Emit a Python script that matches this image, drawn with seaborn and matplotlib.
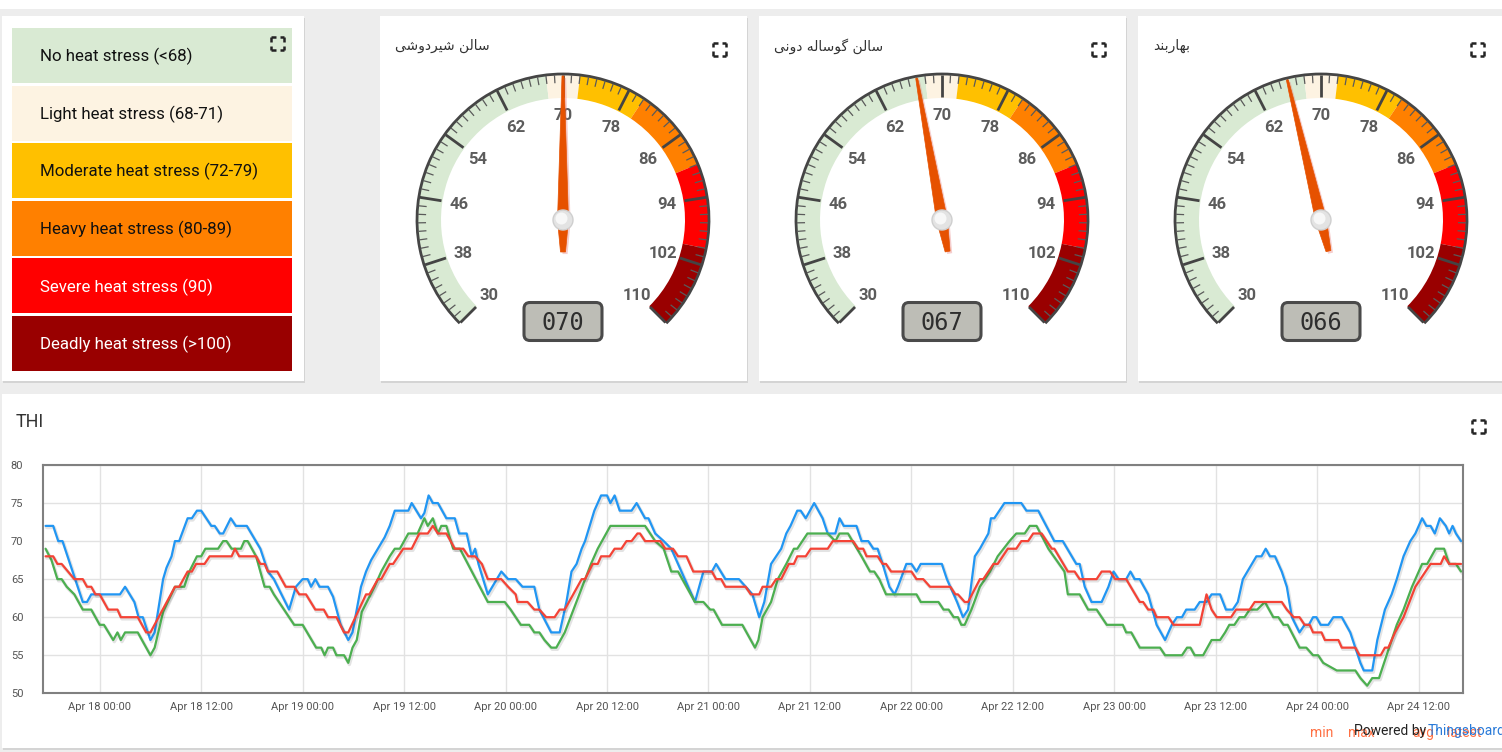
import numpy as np
import pandas as pd
import matplotlib
matplotlib.use("Agg")
import matplotlib.pyplot as plt
import matplotlib.patheffects as pe
from matplotlib.patches import Rectangle, Wedge, Arc, Circle, Polygon, FancyBboxPatch
import seaborn as sns

# ---------------- data ----------------
stress_labels = ["No heat stress (<68)", "Light heat stress (68-71)", "Moderate heat stress (72-79)",
                 "Heavy heat stress (80-89)", "Severe heat stress (90)", "Deadly heat stress (>100)"]
stress_colors = ["#d9ead3", "#fdf3e2", "#ffc000", "#ff8000", "#ff0000", "#990000"]
stress_text_colors = ["#111111", "#111111", "#111111", "#111111", "#ffffff", "#ffffff"]
band_edges = [30, 68, 72, 80, 90, 100, 110]

# Persian gauge titles (presentation forms, visual order)
gauge_names = [
    "\uFEF0\uFEB7\uFEED\uFEA9\uFEAE\uFEF4\uFEB7 \uFEE6\uFEDF\uFE8E\uFEB3",
    "\uFEF0\uFEE7\uFEED\uFEA9 \uFEEA\uFEDF\uFE8E\uFEB3\uFEEE\uFB94 \uFEE6\uFEDF\uFE8E\uFEB3",
    "\uFEAA\uFEE8\uFE91\uFEAD\uFE8E\uFEEC\uFE91",
]
gauge_values = [70, 67, 66]
gauge_ticks = [30, 38, 46, 54, 62, 70, 78, 86, 94, 102, 110]

series_names = ["max", "min", "avg"]
series_colors = {"max": "#2196f3", "min": "#4caf50", "avg": "#f44336"}
legend_items = ["min", "max", "avg", "latest"]

# hours relative to Apr 18 00:00
max_hours = [-6.4, -5.5, -4.9, -4.4, -2.0, -1.5, -1.0, 2.4, 3.0, 4.1, 4.6, 5.1, 6.0, 6.5, 7.5, 7.9, 8.5, 8.9, 9.4,
             10.4, 10.9, 11.5, 12.0, 13.2, 13.6, 14.2, 14.6, 15.5, 16.1, 17.4, 19.0, 19.9, 20.6, 22.4, 23.2, 24.0,
             24.6, 25.0, 25.5, 26.0, 27.0, 27.6, 28.5, 29.4, 29.9, 30.9, 31.5, 32.1, 32.9, 33.7, 34.3, 34.9, 36.5,
             36.9, 38.0, 38.4, 38.9, 39.4, 40.0, 41.0, 42.0, 42.5, 43.4, 44.0, 44.4, 44.8, 45.9, 47.5, 48.3, 49.2,
             50.0, 51.4, 52.0, 53.4, 54.4, 55.2, 55.8, 56.4, 57.0, 57.4, 58.5, 59.3, 60.0, 60.4, 60.9, 61.5, 62.9,
             63.5, 64.5, 64.9, 65.7, 66.7, 67.6, 68.4, 70.4, 71.4, 72.4, 72.9, 74.0, 75.6, 76.4, 77.2, 78.0, 78.6,
             79.4, 80.0, 80.6, 81.2, 81.7, 82.5, 82.9, 83.5, 84.5, 85.5, 86.1, 87.0, 87.5, 88.0, 89.5, 90.1, 90.9,
             91.5, 92.0, 92.6, 93.4, 94.0, 94.4, 95.4, 96.0, 96.6, 97.1, 99.6, 100.2, 101.4, 102.1, 102.7, 103.5,
             104.1, 105.1, 105.4, 105.8, 107.0, 109.0, 109.6, 111.0, 112.9, 113.9, 115.5, 115.9, 116.5, 117.3,
             118.5, 119.3, 119.9, 120.5, 121.4, 121.9, 122.4, 123.0, 124.0, 125.0, 126.0, 126.8, 127.4, 128.0,
             128.5, 129.5, 130.1, 130.9, 131.5, 132.5, 133.2, 134.0, 134.6, 135.2, 136.0, 136.8, 137.4, 137.9,
             138.4, 139.0, 139.8, 140.4, 141.0, 141.9, 142.5, 143.0, 143.5, 143.9, 144.4, 145.3, 145.9, 146.9,
             147.9, 148.5, 149.1, 149.5, 150.5, 151.1, 152.0, 152.8, 153.4, 154.2, 155.0, 155.6, 156.4, 156.9,
             157.4, 157.9, 158.5, 159.2, 159.6, 160.0, 160.4, 161.0]
max_thi = [72, 72, 70, 70, 62, 62, 63, 63, 64, 62, 60, 60, 57, 58, 65, 66.5, 68, 70, 70,
           73, 73, 74, 74, 72, 72, 71, 71, 73, 72, 72, 69, 66, 65, 61, 64, 65,
           65, 64, 65, 64, 64, 62.7, 59, 57, 58, 64, 66, 67.5, 69, 70.5, 72, 74, 74,
           75, 73, 73.7, 76, 75, 75, 73, 73, 71, 71, 68, 69, 67, 63, 66, 65, 65,
           64, 64, 61, 58, 58, 62, 66, 67, 69, 70, 74, 76, 76, 75, 76, 74, 74,
           75, 73, 73, 71, 70, 69, 67, 62, 66, 66, 67, 65, 65, 64, 63, 60, 62,
           67, 68, 69, 71, 72, 74, 74, 73, 75, 73, 71, 71, 73, 72, 72, 70, 70,
           69, 69, 67, 64, 63, 64, 67, 67, 66, 67, 67, 65, 62, 60, 61, 68,
           69, 71, 73, 73, 75, 75, 74, 74, 70, 70, 67, 67, 64, 62,
           62, 64, 66, 65, 65, 66, 65, 65, 63, 59, 57, 59, 60, 60,
           61, 61, 62, 62, 63, 63, 61, 61, 62, 65, 66.5, 68, 68, 69,
           68, 68, 66, 64, 60, 58, 59, 59, 60, 60, 59, 59, 60, 60,
           58, 56, 54, 53, 53, 57, 61, 63, 65, 68, 70, 71, 73, 72,
           72, 71, 73, 72, 71, 72, 71, 70]

min_hours = [-6.4, -5.7, -5.0, -4.5, -3.9, -3.0, -2.0, -1.0, 0.0, 0.5, 1.6, 2.1, 2.5, 3.0, 4.5, 6.0, 6.5, 7.5, 8.9,
             10.0, 10.6, 11.5, 12.0, 12.5, 14.0, 14.6, 15.0, 15.6, 16.7, 17.1, 17.5, 18.5, 19.5, 20.1, 20.6, 21.2,
             23.0, 24.0, 25.6, 26.2, 26.6, 27.0, 27.6, 28.0, 28.9, 29.4, 29.9, 30.4, 31.0, 32.5, 33.3, 34.3, 34.9,
             35.5, 36.5, 37.6, 38.4, 38.8, 39.4, 40.0, 40.4, 41.0, 41.8, 42.6, 45.9, 47.9, 48.6, 49.8, 50.8, 51.4,
             52.0, 52.6, 53.4, 54.0, 55.0, 58.1, 58.9, 60.4, 64.5, 65.7, 66.7, 67.3, 67.6, 68.4, 70.4, 71.4, 72.2,
             72.6, 73.6, 76.0, 77.5, 77.9, 78.4, 79.4, 80.2, 81.2, 82.1, 82.5, 83.7, 86.1, 87.0, 87.5, 88.5, 90.1,
             91.1, 91.6, 92.2, 93.0, 96.6, 97.1, 99.2, 99.8, 100.4, 101.0, 101.5, 101.9, 102.3, 103.1, 104.1,
             105.3, 106.2, 107.6, 108.4, 109.4, 110.0, 110.8, 112.2, 114.1, 114.5, 115.9, 116.9, 117.9, 119.1,
             121.0, 121.4, 122.0, 123.0, 125.4, 126.0, 128.0, 128.6, 129.0, 129.5, 130.5, 131.5, 132.5, 133.1,
             133.6, 134.2, 134.8, 135.4, 136.0, 136.9, 137.8, 138.8, 139.4, 140.0, 140.5, 141.9, 142.7, 143.5,
             144.1, 144.7, 146.3, 148.5, 149.1, 149.9, 150.5, 151.3, 152.2, 153.4, 154.2, 155.2, 156.4, 157.0,
             158.0, 159.0, 159.6, 160.4, 161.0]
min_thi = [69, 67.5, 65, 65, 64, 63, 61, 61, 59, 59, 57, 58, 57, 58, 58, 55, 56, 60.7, 64,
           64, 66, 68, 68, 69, 69, 70, 70, 69, 69, 70, 70, 68, 64, 64, 63, 62,
           59, 59, 56, 56, 55, 56, 56, 55, 55, 54, 56, 57, 60.7, 64, 66, 68, 69,
           69, 71, 71, 73, 72, 73, 71, 72, 72, 69, 69, 62, 62, 61, 59, 59, 58,
           58, 57, 56, 56, 58, 67, 69, 72, 72, 70, 69, 67, 66, 66, 62, 62, 61,
           61, 59, 59, 56, 57, 60, 62, 65, 67, 69, 69, 71, 71, 70, 71, 71, 68,
           66, 66, 65, 63, 63, 62, 62, 61, 61, 60, 60, 59, 59, 61, 64,
           66, 68, 70, 71, 71, 72, 72, 69, 66, 63, 63, 61, 61, 59,
           59, 58, 58, 56, 56, 55, 55, 56, 56, 55, 55, 57, 57, 58,
           59, 59, 60, 60, 61, 61, 62, 60, 60, 59, 59, 56, 56, 55,
           55, 54, 53, 53, 52, 51, 52, 52, 55, 59, 61, 64, 67, 67,
           69, 69, 67, 67, 66]

avg_hours = [-6.4, -5.5, -5.0, -4.5, -3.0, -2.0, -1.5, -1.0, -0.5, 0.0, 1.0, 2.1, 2.5, 4.5, 5.5, 6.0, 8.9, 9.4,
             10.4, 10.9, 11.4, 12.4, 13.0, 15.6, 16.0, 16.5, 18.5, 19.0, 19.5, 19.9, 21.0, 22.0, 23.0, 23.6,
             24.4, 25.5, 26.5, 27.0, 28.0, 28.9, 29.4, 31.5, 31.9, 32.9, 33.3, 34.3, 34.7, 35.9, 36.9, 37.8,
             38.8, 39.4, 40.0, 41.0, 42.0, 43.0, 43.6, 44.4, 45.2, 45.9, 47.5, 48.3, 49.2, 49.4, 50.6, 51.4,
             52.0, 52.8, 53.8, 54.4, 55.0, 57.0, 57.4, 58.3, 58.9, 59.3, 60.3, 60.9, 61.7, 62.3, 62.9, 63.6,
             63.9, 64.5, 66.3, 66.9, 67.8, 68.4, 69.4, 70.2, 72.4, 72.9, 73.5, 74.0, 76.4, 77.0, 78.0, 78.4,
             79.4, 80.0, 80.6, 81.5, 82.1, 82.5, 83.5, 84.1, 86.1, 86.7, 89.1, 89.7, 90.3, 90.7, 92.0, 92.6,
             93.0, 93.6, 96.0, 96.6, 97.4, 98.2, 100.6, 101.2, 101.5, 102.3, 102.7, 104.1, 104.5, 105.7, 106.2,
             106.8, 107.4, 108.4, 109.0, 109.8, 110.4, 111.4, 112.6, 112.9, 114.5, 115.3, 115.9, 117.9, 118.5,
             119.5, 120.1, 121.4, 123.0, 123.4, 124.0, 124.6, 125.0, 126.4, 127.0, 130.1, 130.9, 131.5, 132.1,
             133.8, 134.4, 136.0, 136.6, 139.8, 140.4, 141.2, 141.9, 142.5, 143.1, 143.5, 144.5, 144.9, 146.5,
             146.9, 148.5, 149.0, 151.5, 152.0, 152.4, 153.2, 154.2, 155.6, 157.4, 158.6, 159.0, 159.6, 161.0]
avg_thi = [68, 68, 67, 67, 65, 65, 64, 64, 63, 63, 61, 61, 60, 60, 58, 58, 64, 64,
           66, 66, 67, 67, 68, 68, 69, 68, 68, 67, 67, 66, 66, 64, 64, 63,
           63, 61, 61, 60, 60, 58, 58, 63, 63, 65, 65, 67, 67, 69, 69, 71,
           71, 72, 71, 71, 69, 69, 68, 68, 67, 65, 65, 64, 63, 62, 62, 61,
           61, 60, 60, 61, 61, 65, 65, 67, 67, 68, 68, 69, 69, 70, 70, 71,
           71, 70, 70, 69, 69, 68, 68, 66, 66, 65, 65, 64, 64, 63, 63, 64,
           64, 65, 65, 67, 67, 68, 68, 69, 69, 70, 70, 69, 69, 68, 68, 67,
           67, 66, 66, 65, 65, 64, 64, 63, 63, 62, 62, 65, 65, 67, 67,
           68, 69, 69, 70, 70, 71, 71, 69, 69, 66, 66, 65, 65, 66,
           66, 65, 65, 62, 62, 61, 61, 60, 60, 59, 59, 63, 61, 60,
           60, 61, 61, 62, 62, 61, 60, 60, 59, 59, 58, 58, 57, 57,
           56, 56, 55, 55, 56, 56, 58, 60, 64, 67, 67, 68, 67, 67]

# ---------------- style ----------------
sns.set_theme(style="white")
plt.rcParams["font.family"] = ["Roboto", "DejaVu Sans"]

W, H = 1502, 752
fig = plt.figure(figsize=(W / 100, H / 100), dpi=100, facecolor="#ededed")

bg = fig.add_axes([0, 0, 1, 1], zorder=0)
bg.axis("off")


def card(x, y, w, h):
    bg.add_patch(Rectangle((x + 1, y + 2), w, h, facecolor="#d4d4d4", edgecolor="none", zorder=0.5))
    bg.add_patch(Rectangle((x, y), w, h, facecolor="white", edgecolor="none", zorder=1))


def expand_icon(x, y, s=13):
    h = s / 2
    l = 4.5
    for sx in (-1, 1):
        for sy in (-1, 1):
            x0, y0 = x + sx * h, y + sy * h
            bg.plot([x0, x0 - sx * l], [y0, y0], color="#222222", lw=1.8, solid_capstyle="butt", zorder=5)
            bg.plot([x0, x0], [y0, y0 - sy * l], color="#222222", lw=1.8, solid_capstyle="butt", zorder=5)


# top strip
bg.add_patch(Rectangle((0, 0), W, 9, facecolor="white", edgecolor="none", zorder=1))

# ---- legend card ----
card(2, 16, 302, 365)
band_top0, band_h, band_pitch = 28, 55, 57.6
for i, (lab, col, tcol) in enumerate(zip(stress_labels, stress_colors, stress_text_colors)):
    top = band_top0 + i * band_pitch
    bg.add_patch(Rectangle((12, top), 280, band_h, facecolor=col, edgecolor="none", zorder=2))
    bg.text(40, top + band_h / 2 + 1, lab, fontsize=12.2, color=tcol, ha="left", va="center", zorder=3)
expand_icon(277.5, 43.5)

# ---- gauges ----
def theta(v):
    return 225 - (v - 30) * 270.0 / 80.0


gauge_cards = [380, 759, 1138]
for gi, (name, value, cl) in enumerate(zip(gauge_names, gauge_values, gauge_cards)):
    cw = 367 if gi < 2 else W - cl
    card(cl, 16, cw, 365)
    cx, cy = cl + 183, 220
    R, bw = 146, 24
    for i in range(len(band_edges) - 1):
        v1, v2 = band_edges[i], band_edges[i + 1]
        bg.add_patch(Wedge((cx, cy), R, -theta(v1), -theta(v2), width=bw,
                           facecolor=stress_colors[i], edgecolor="none", zorder=2))
    bg.add_patch(Arc((cx, cy), 2 * R, 2 * R, theta1=-225, theta2=45, color="#454545", lw=2, zorder=3))
    for v in range(30, 111):
        t = np.radians(theta(v))
        major = v in gauge_ticks
        r1, r2 = R - 1, R - (23 if major else 9)
        bg.plot([cx + r1 * np.cos(t), cx + r2 * np.cos(t)], [cy - r1 * np.sin(t), cy - r2 * np.sin(t)],
                color="#444444" if major else "#5a5a5a", lw=2.0 if major else 0.9, zorder=3,
                solid_capstyle="butt")
    for v in gauge_ticks:
        t = np.radians(theta(v))
        bg.text(cx + 105 * np.cos(t), cy - 105 * np.sin(t) + 1, str(v), fontsize=12, fontweight="bold",
                color="#5c5c5c", ha="center", va="center", zorder=3)
    # needle
    t = np.radians(theta(value))
    u = np.array([np.cos(t), -np.sin(t)])
    n = np.array([np.sin(t), np.cos(t)])
    c = np.array([cx, cy])
    pts = [c + u * 144 + n * 1.0, c + u * 144 - n * 1.0, c - n * 5.5, c - u * 32 - n * 2.5,
           c - u * 32 + n * 2.5, c + n * 5.5]
    needle = Polygon(pts, closed=True, facecolor="#e65100", edgecolor="#e65100", lw=0.5, zorder=6)
    needle.set_path_effects([pe.SimplePatchShadow(offset=(1.5, -1.5), shadow_rgbFace="#e57373", alpha=0.35),
                             pe.Normal()])
    bg.add_patch(needle)
    bg.add_patch(Circle((cx, cy), 10, facecolor="#e3e3e3", edgecolor="#cfcfcf", lw=1, zorder=7))
    bg.add_patch(Circle((cx - 1.5, cy - 1.5), 6, facecolor="#f7f7f7", edgecolor="none", zorder=7))
    # LCD
    bg.add_patch(FancyBboxPatch((cx - 39, 302.5), 78, 38, boxstyle="round,pad=0,rounding_size=6",
                                facecolor="#bdbdb6", edgecolor="#4a4a4a", lw=2.2, zorder=4))
    bg.text(cx, 322.5, f"{value:03d}", fontsize=17, family="DejaVu Sans Mono", color="#2e2e2e",
            ha="center", va="center", zorder=5)
    # title
    bg.text(cl + 15, 46, name, fontsize=10, family="DejaVu Sans", color="#333333", ha="left", va="center", zorder=3)
    expand_icon(cl + 339.5, 49)

# ---- chart card ----
card(2, 394, W - 2, 354)
bg.text(16, 422, "THI", fontsize=13, color="#333333", ha="left", va="center", zorder=3)
expand_icon(1478, 426)

# legend row / powered by (overlapping, as in the dashboard)
leg_x = [1310, 1348, 1412, 1447]
for lab, x in zip(legend_items, leg_x):
    bg.text(x, 733, lab, fontsize=10, color="#ff5722", alpha=0.85, ha="left", va="center", zorder=3)
bg.text(1354, 731, "Powered by", fontsize=10, color="#222222", ha="left", va="center", zorder=4)
bg.text(1428, 731, "Thingsboard", fontsize=10, color="#2a7ad8", ha="left", va="center", zorder=4)

bg.set_xlim(0, W)
bg.set_ylim(H, 0)

# ---------------- line chart ----------------
base = pd.Timestamp("2019-04-18 00:00")
frames = []
for name, hrs, vals in [("max", max_hours, max_thi), ("min", min_hours, min_thi), ("avg", avg_hours, avg_thi)]:
    frames.append(pd.DataFrame({"time": base + pd.to_timedelta(np.array(hrs), unit="h"),
                                "THI": vals, "series": name}))
df = pd.concat(frames, ignore_index=True)

left, right, top, bottom = 42.7, 1463.3, 465.0, 693.3
ax = fig.add_axes([left / W, 1 - bottom / H, (right - left) / W, (bottom - top) / H], zorder=2)
ax.set_facecolor("white")
sns.lineplot(data=df, x="time", y="THI", hue="series", hue_order=series_names, palette=series_colors,
             estimator=None, sort=False, linewidth=1.6, legend=False, ax=ax)
for ln in ax.lines:
    ln.set_path_effects([pe.SimpleLineShadow(offset=(0.8, -1.2), shadow_color="k", alpha=0.12, linewidth=2.4),
                         pe.Normal()])

ax.set_ylim(50, 80)
ax.set_yticks(range(50, 81, 5))
ax.set_xlim(base - pd.Timedelta(hours=6.74), base + pd.Timedelta(hours=161.27))
xt = pd.date_range(base, periods=14, freq="12h")
ax.set_xticks(xt)
ax.set_xticklabels([t.strftime("%b %d %H:%M") for t in xt])
ax.grid(True, color="#e2e2e2", lw=1)
ax.set_axisbelow(True)
ax.set_xlabel("")
ax.set_ylabel("")
ax.tick_params(axis="y", length=0, pad=14, labelsize=8, labelcolor="#545454")
ax.tick_params(axis="x", length=0, pad=6, labelsize=8, labelcolor="#545454")
for s in ax.spines.values():
    s.set_visible(True)
    s.set_color("#808080")
    s.set_linewidth(1.5)

fig.savefig("out.png", dpi=100, facecolor=fig.get_facecolor())
